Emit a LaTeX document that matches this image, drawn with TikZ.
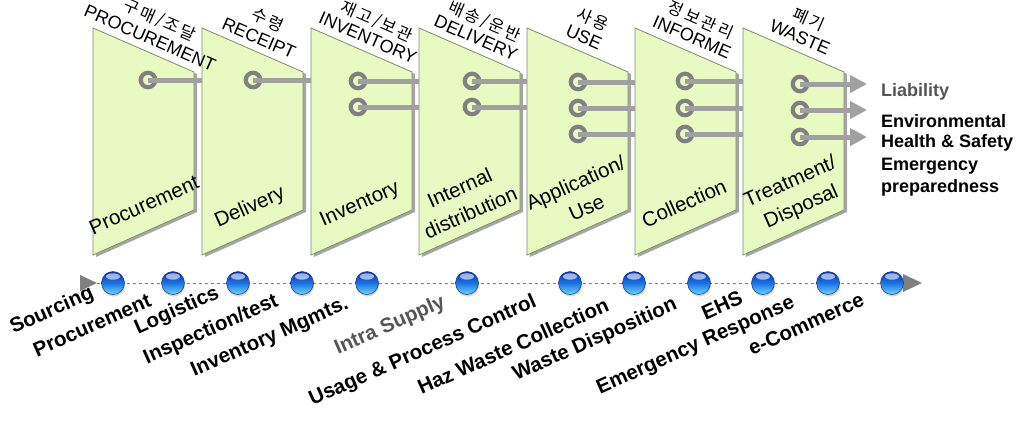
\documentclass[tikz,border=0pt]{standalone}
\usepackage{fontspec}
\setmainfont{Liberation Sans}
\newfontfamily\krfont{Noto Sans CJK KR}
\usetikzlibrary{arrows.meta,shadows,calc}
\definecolor{panelfill}{RGB}{232,249,194}
\definecolor{panelline}{RGB}{125,140,105}
\definecolor{ringgray}{RGB}{128,128,128}
\definecolor{linkgray}{RGB}{160,160,160}
\definecolor{tlgray}{RGB}{128,128,128}
\definecolor{balltop}{RGB}{8,50,170}
\definecolor{ballmid}{RGB}{25,115,230}
\definecolor{ballbot}{RGB}{110,215,255}
\definecolor{balledge}{RGB}{20,50,130}
\definecolor{darkgraytext}{RGB}{85,85,85}
\begin{document}
\begin{tikzpicture}[x=1pt,y=-1pt,
  panel/.style={fill=panelfill,draw=panelline,line width=0.8pt,
    drop shadow={shadow xshift=3pt,shadow yshift=-2pt,opacity=0.35,fill=black}},
  ring/.style={circle,draw=ringgray,line width=4.2pt,minimum size=14.5pt,inner sep=0pt},
  link/.style={draw=linkgray,line width=5pt},
  linkarrow/.style={link,-{Triangle[length=17pt,width=17pt]}},
  toplab/.style={font=\fontsize{18}{18}\selectfont,rotate=-23.5,inner sep=0pt},
  krch/.style={font=\krfont\fontsize{16.5}{16.5}\selectfont,rotate=-23.5,inner sep=0pt},
  ptext/.style={font=\fontsize{20.5}{27}\selectfont,rotate=24,align=center,inner sep=0pt},
  ball/.style={circle,minimum size=23pt,inner sep=0pt,draw=balledge,line width=0.5pt,
    top color=balltop,bottom color=ballbot,middle color=ballmid,
    drop shadow={shadow xshift=0.5pt,shadow yshift=-2pt,opacity=0.35},
    path picture={\fill[white,opacity=0.6] ([yshift=-5pt]path picture bounding box.north) ellipse [x radius=7pt,y radius=3.2pt];}},
  blab/.style={font=\bfseries\fontsize{20.5}{22}\selectfont,rotate=24,inner sep=0pt},
  rlab/.style={font=\bfseries\fontsize{18}{20}\selectfont,anchor=west,inner sep=0pt}]
\useasboundingbox (0,0) rectangle (1033,421);

% panels
\foreach \L in {93,202,311,419,527,635,743}
  \path[panel] (\L,28) -- (\L+101,72) -- (\L+101,210) -- (\L,255) -- cycle;

% panel left edges
\coordinate (e2) at (202,0);
\coordinate (e3) at (311,0);
\coordinate (e4) at (419,0);
\coordinate (e5) at (527,0);
\coordinate (e6) at (635,0);
\coordinate (e7) at (743,0);
\coordinate (tip) at (867,0);

% rings and links
\node[ring] (r1a) at (148,80) {};
\draw[link] (r1a.center) -- (r1a.center -| e2);
\node[ring] (r2a) at (253,80) {};
\draw[link] (r2a.center) -- (r2a.center -| e3);
\node[ring] (r3a) at (358,81) {};
\node[ring] (r3b) at (358,107) {};
\draw[link] (r3a.center) -- (r3a.center -| e4);
\draw[link] (r3b.center) -- (r3b.center -| e4);
\node[ring] (r4a) at (472,81) {};
\node[ring] (r4b) at (472,107) {};
\draw[link] (r4a.center) -- (r4a.center -| e5);
\draw[link] (r4b.center) -- (r4b.center -| e5);
\node[ring] (r5a) at (578,82) {};
\node[ring] (r5b) at (578,108) {};
\node[ring] (r5c) at (578,134) {};
\draw[link] (r5a.center) -- (r5a.center -| e6);
\draw[link] (r5b.center) -- (r5b.center -| e6);
\draw[link] (r5c.center) -- (r5c.center -| e6);
\node[ring] (r6a) at (685,81) {};
\node[ring] (r6b) at (685,108) {};
\node[ring] (r6c) at (685,134) {};
\draw[link] (r6a.center) -- (r6a.center -| e7);
\draw[link] (r6b.center) -- (r6b.center -| e7);
\draw[link] (r6c.center) -- (r6c.center -| e7);
\node[ring] (r7a) at (800,84) {};
\node[ring] (r7b) at (800,110) {};
\node[ring] (r7c) at (800,137) {};
\draw[linkarrow] (r7a.center) -- (r7a.center -| tip);
\draw[linkarrow] (r7b.center) -- (r7b.center -| tip);
\draw[linkarrow] (r7c.center) -- (r7c.center -| tip);

% top labels (English)
\node[toplab] (t1) at (150,38) {PROCUREMENT};
\node[toplab] (t2) at (259,38) {RECEIPT};
\node[toplab] (t3) at (368,38) {INVENTORY};
\node[toplab] (t4) at (476,38) {DELIVERY};
\node[toplab] (t5) at (584,37) {USE};
\node[toplab] (t6) at (692,37) {INFORME};
\node[toplab] (t7) at (800,37) {WASTE};

% Korean lines: one node per character, laid along the slope above each English label
\coordinate (kc1) at ($(t1)+(10,-18)$);
\coordinate (kc2) at ($(t2)+(9,-18)$);
\coordinate (kc3) at ($(t3)+(9,-17)$);
\coordinate (kc4) at ($(t4)+(9,-17)$);
\coordinate (kc5) at ($(t5)+(9,-18)$);
\coordinate (kc6) at ($(t6)+(9,-17)$);
\coordinate (kc7) at ($(t7)+(9,-18)$);
\foreach \o/\c [count=\j] in {-30.75/구,-12.75/매,0/{/},12.75/조,30.75/달}
  \node[krch] (k1-\j) at ($(kc1)+({0.917*(\o)},{0.399*(\o)})$) {\c};
\foreach \o/\c [count=\j] in {-9/수,9/령}
  \node[krch] (k2-\j) at ($(kc2)+({0.917*(\o)},{0.399*(\o)})$) {\c};
\foreach \o/\c [count=\j] in {-30.75/재,-12.75/고,0/{/},12.75/보,30.75/관}
  \node[krch] (k3-\j) at ($(kc3)+({0.917*(\o)},{0.399*(\o)})$) {\c};
\foreach \o/\c [count=\j] in {-30.75/배,-12.75/송,0/{/},12.75/운,30.75/반}
  \node[krch] (k4-\j) at ($(kc4)+({0.917*(\o)},{0.399*(\o)})$) {\c};
\foreach \o/\c [count=\j] in {-9/사,9/용}
  \node[krch] (k5-\j) at ($(kc5)+({0.917*(\o)},{0.399*(\o)})$) {\c};
\foreach \o/\c [count=\j] in {-27/정,-9/보,9/관,27/리}
  \node[krch] (k6-\j) at ($(kc6)+({0.917*(\o)},{0.399*(\o)})$) {\c};
\foreach \o/\c [count=\j] in {-9/폐,9/기}
  \node[krch] (k7-\j) at ($(kc7)+({0.917*(\o)},{0.399*(\o)})$) {\c};

% panel texts
\node[ptext] (p1) at (144,205) {Procurement};
\node[ptext] (p2) at (250,208) {Delivery};
\node[ptext] (p3) at (360,205) {Inventory};
\node[ptext] (p4) at (465,200) {Internal\\distribution};
\node[ptext] (p5) at (581,195) {Application/\\Use};
\node[ptext] (p6) at (684,203) {Collection};
\node[ptext] (p7) at (796,195) {Treatment/\\Disposal};

% right labels
\node[rlab,text=darkgraytext] (liab) at (881,92) {Liability};
\node[rlab] (env) at (881,121) {Environmental};
\node[rlab] (hs) at (881,143) {Health \& Safety};
\node[rlab] (em) at (881,166) {Emergency};
\node[rlab] (prep) at (881,188) {preparedness};

% timeline
\coordinate (tlA) at (97,283);
\coordinate (tlB) at (903,283);
\draw[tlgray,dashed,line width=0.7pt] (tlA) -- (tlB);
\fill[tlgray] (80,275) -- (97,283) -- (80,291) -- cycle;
\fill[tlgray] (903,274) -- (922,283) -- (903,292) -- cycle;
\foreach \n/\x in {1/113,2/173,3/238,4/302,5/367,6/467,7/570,8/634,9/699,10/763,11/828,12/892}
  \node[ball] (b\n) at (\x,283) {};

% bottom labels
\node[blab] (s1) at (52,311) {Sourcing};
\node[blab] (s2) at (92,325) {Procurement};
\node[blab] (s3) at (177,311) {Logistics};
\node[blab] (s4) at (211,330) {Inspection/test};
\node[blab] (s5) at (270,338) {Inventory Mgmts.};
\node[blab,text=darkgraytext] (s6) at (390,326) {Intra Supply};
\node[blab] (s7) at (423,351) {Usage \& Process Control};
\node[blab] (s8) at (513,346) {Haz Waste Collection};
\node[blab] (s9) at (595,340) {Waste Disposition};
\node[blab] (s10) at (722,305) {EHS};
\node[blab] (s11) at (696,346) {Emergency Response};
\node[blab] (s12) at (806,324) {e-Commerce};
\end{tikzpicture}
\end{document}
